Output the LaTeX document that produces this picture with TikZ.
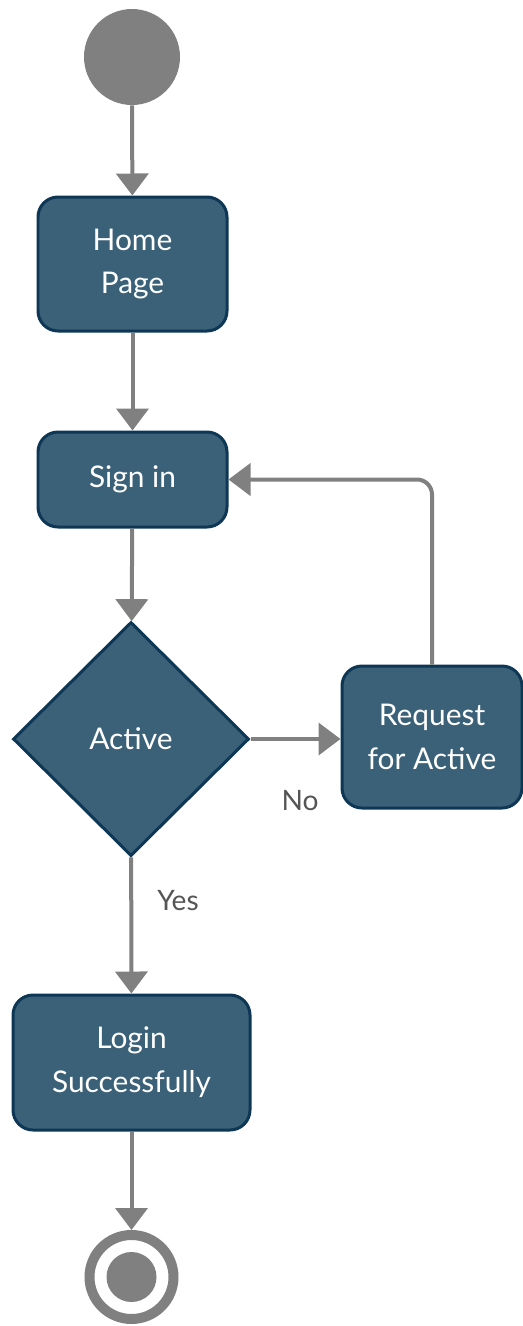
\documentclass[tikz,border=0pt]{standalone}
\usepackage{fontspec}
\setmainfont{Lato}
\usepackage{tikz}
\usetikzlibrary{arrows.meta,shapes.geometric}
\definecolor{boxfill}{HTML}{3A6178}
\definecolor{boxline}{HTML}{0E3755}
\definecolor{flowgray}{HTML}{808080}
\definecolor{labelgray}{HTML}{555555}
\tikzset{
  activity/.style={draw=boxline, fill=boxfill, line width=0.06cm, rounded corners=0.4cm,
    text=white, align=center, font=\fontsize{17}{25}\selectfont, inner sep=0pt},
  decision/.style={diamond, draw=boxline, fill=boxfill, line width=0.06cm,
    text=white, font=\fontsize{17}{25}\selectfont, inner sep=0pt,
    minimum width=4.72cm, minimum height=4.68cm},
  flow/.style={draw=flowgray, line width=0.08cm, -{Triangle[width=0.64cm,length=0.44cm]}},
  guard/.style={text=labelgray, font=\fontsize{16}{20}\selectfont}
}
\begin{document}
\begin{tikzpicture}
            \useasboundingbox (0,0) rectangle (10.46,-26.52);
            % start and end
            \node[circle, fill=flowgray, minimum size=1.92cm, inner sep=0pt] (start) at (2.64,-1.14) {};
            \node[circle, draw=flowgray, line width=0.2cm, minimum size=1.68cm, inner sep=0pt] (stop) at (2.63,-25.54) {};
            \fill[flowgray] (stop.center) circle (0.5);
            % activities
            \node[activity, minimum width=3.78cm, minimum height=2.68cm] (home) at (2.65,-5.28) {Home\\Page};
            \node[activity, minimum width=3.78cm, minimum height=1.90cm] (signin) at (2.65,-9.59) {Sign in};
            \node[decision] (active) at (2.62,-14.78) {Active};
            \node[activity, minimum width=3.60cm, minimum height=2.84cm] (request) at (8.64,-14.74) {Request\\for Active};
            \node[activity, minimum width=4.74cm, minimum height=2.70cm] (login) at (2.63,-21.25) {Login\\Successfully};
            % flows
            \draw[flow] (start) -- (home);
            \draw[flow] (home) -- (signin);
            \draw[flow] (signin) -- (active);
            \draw[flow] (active.east) -- (request.west |- active.east);
            \draw[flow, rounded corners=0.3cm] (request.north) |- (signin.east);
            \draw[flow] (active) -- (login);
            \draw[flow] (login) -- (stop);
            \node[guard] (no) at (6.0,-16.02) {No};
            \node[guard] (yes) at (3.56,-18.02) {Yes};
        \end{tikzpicture}
\end{document}
